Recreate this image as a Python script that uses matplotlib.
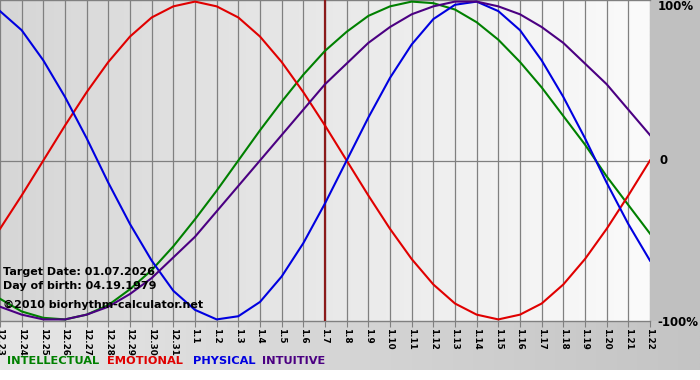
import numpy as np
import matplotlib.pyplot as plt
from matplotlib.colors import LinearSegmentedColormap
from matplotlib.patches import Rectangle

# days shown on the chart (target date 1.7 in the middle)
dates = ['12.23', '12.24', '12.25', '12.26', '12.27', '12.28', '12.29', '12.30', '12.31',
         '1.1', '1.2', '1.3', '1.4', '1.5', '1.6', '1.7', '1.8', '1.9', '1.10', '1.11',
         '1.12', '1.13', '1.14', '1.15', '1.16', '1.17', '1.18', '1.19', '1.20', '1.21', '1.22']
target_idx = 15

# cycle values, one per day (-1 .. 1)
physical = [0.94, 0.82, 0.63, 0.40, 0.14, -0.14, -0.40, -0.63, -0.82, -0.94, -1.00,
            -0.98, -0.89, -0.73, -0.52, -0.27, 0.00, 0.27, 0.52, 0.73, 0.89,
            0.98, 1.00, 0.94, 0.82, 0.63, 0.40, 0.14, -0.14, -0.40, -0.63]
emotional = [-0.43, -0.22, 0.00, 0.22, 0.43, 0.62, 0.78, 0.90, 0.97, 1.00, 0.97,
             0.90, 0.78, 0.62, 0.43, 0.22, 0.00, -0.22, -0.43, -0.62, -0.78,
             -0.90, -0.97, -1.00, -0.97, -0.90, -0.78, -0.62, -0.43, -0.22, 0.00]
intellectual = [-0.87, -0.95, -0.99, -1.00, -0.97, -0.91, -0.81, -0.69, -0.54, -0.37, -0.19,
                0.00, 0.19, 0.37, 0.54, 0.69, 0.81, 0.91, 0.97, 1.00, 0.99,
                0.95, 0.87, 0.76, 0.62, 0.46, 0.28, 0.10, -0.10, -0.28, -0.46]
intuitive = [-0.92, -0.97, -1.00, -1.00, -0.97, -0.92, -0.84, -0.74, -0.61, -0.48, -0.32,
             -0.16, 0.00, 0.16, 0.32, 0.48, 0.61, 0.74, 0.84, 0.92, 0.97,
             1.00, 1.00, 0.97, 0.92, 0.84, 0.74, 0.61, 0.48, 0.32, 0.16]

series = [('INTELLECTUAL', intellectual, '#008000'),
          ('EMOTIONAL', emotional, '#e00000'),
          ('PHYSICAL', physical, '#0000e0'),
          ('INTUITIVE', intuitive, '#4b0082')]

W, H = 700, 380
fig = plt.figure(figsize=(W / 100, H / 100), dpi=100, facecolor='white')

# background panels (pixel coords, origin top-left)
bg = fig.add_axes([0, 0, 1, 1])
bg.axis('off')
grad = np.linspace(0, 1, 256).reshape(1, -1)
bottom_cmap = LinearSegmentedColormap.from_list('b', ['#e6e6e6', '#c4c4c4'])
bg.imshow(grad, extent=(0, 700, 370, 321), aspect='auto', cmap=bottom_cmap)
bg.add_patch(Rectangle((650, 0), 50, 321, color='#c0c0c0', lw=0))
bg.set_xlim(0, W)
bg.set_ylim(H, 0)

ax = fig.add_axes([0, 59 / H, 650 / W, 321 / H])
plot_cmap = LinearSegmentedColormap.from_list('p', ['#d6d6d6', '#fbfbfb'])
x = np.arange(len(dates))
ax.imshow(grad, extent=(0, 30, -1.01, 1.01), aspect='auto', cmap=plot_cmap, zorder=0)
ax.set_xlim(0, 30)
ax.set_ylim(-1.01, 1.01)

ax.set_xticks(x, dates, rotation=-90, fontsize=6.3, fontweight='bold')
ax.set_yticks([])
ax.tick_params(axis='x', length=4, width=0.8, color='#808080', pad=1)
ax.grid(axis='x', color='#808080', lw=0.9)
ax.axhline(0, color='#808080', lw=0.9)
for s in ['left', 'right']:
    ax.spines[s].set_visible(False)
for s in ['top', 'bottom']:
    ax.spines[s].set_color('#808080')
    ax.spines[s].set_linewidth(1)

ax.axvline(target_idx, color='#8b1a1a', lw=1.6, zorder=3)

for name, vals, col in series:
    ax.plot(x, vals, color=col, lw=1.5, zorder=4)

def px(xp, yp):
    return xp / W, 1 - yp / H

txt = dict(fontsize=8, fontweight='bold', va='center', ha='left')
fig.text(*px(3, 272), 'Target Date: 01.07.2026', **txt)
fig.text(*px(3, 286), 'Day of birth: 04.19.1979', **txt)
fig.text(*px(3, 305), '\u00a92010 biorhythm-calculator.net', **txt)

side = dict(fontsize=8.5, fontweight='bold', va='center', ha='left')
fig.text(*px(658, 7), '100%', **side)
fig.text(*px(659, 161), '0', **side)
fig.text(*px(657, 322), '-100%', **side)

legend_x = [7, 107, 193, 262]
for lx, (name, vals, col) in zip(legend_x, series):
    fig.text(*px(lx, 361), name, color=col, fontsize=8.2, fontweight='bold', va='center', ha='left')

fig.savefig('out.png', dpi=100, facecolor='white')
